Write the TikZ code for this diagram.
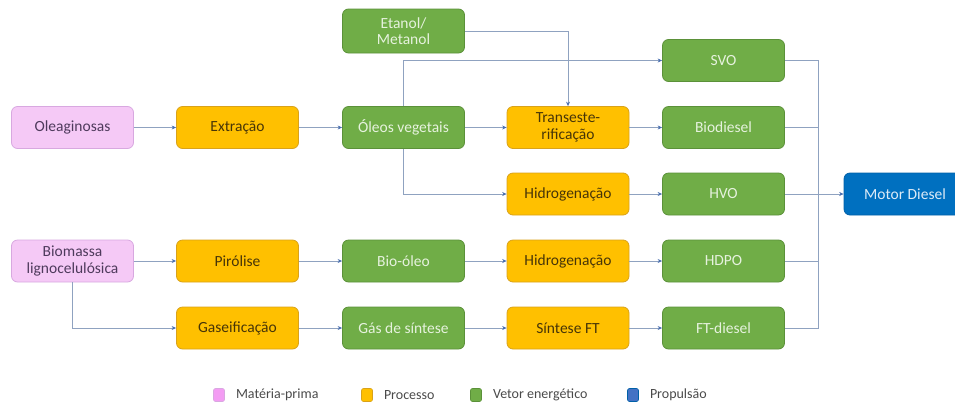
\documentclass[tikz,border=0pt]{standalone}
\usepackage{fontspec}
\setmainfont{Carlito}
\usetikzlibrary{arrows.meta,positioning}
\definecolor{rosa}{HTML}{F5C9F6}
\definecolor{rosaborda}{HTML}{D8A8E0}
\definecolor{rosatexto}{HTML}{4E3A5C}
\definecolor{rosaleg}{HTML}{F39CF3}
\definecolor{laranja}{HTML}{FFC000}
\definecolor{laranjaborda}{HTML}{D9A21A}
\definecolor{laranjatexto}{HTML}{473508}
\definecolor{verde}{HTML}{70AD47}
\definecolor{verdeborda}{HTML}{5B9139}
\definecolor{verdetexto}{HTML}{E6F2DE}
\definecolor{azul}{HTML}{0070C0}
\definecolor{azulborda}{HTML}{0060A8}
\definecolor{azultexto}{HTML}{DDEBF7}
\definecolor{azulleg}{HTML}{4472C4}
\definecolor{linhacor}{HTML}{8FA2C0}
\definecolor{setacor}{HTML}{4A6FB0}
\definecolor{legtexto}{HTML}{4A4A4A}
\begin{document}
\begin{tikzpicture}[x=1pt, y=-1pt,
    caixa/.style={rounded corners=6pt, minimum width=122pt, minimum height=42pt,
        align=center, inner sep=2pt, line width=0.8pt,
        font=\fontsize{15.5}{16.5}\selectfont},
    materia/.style={caixa, fill=rosa, draw=rosaborda, text=rosatexto},
    processo/.style={caixa, fill=laranja, draw=laranjaborda, text=laranjatexto},
    vetor/.style={caixa, fill=verde, draw=verdeborda, text=verdetexto},
    propulsao/.style={caixa, fill=azul, draw=azulborda, text=azultexto},
    linha/.style={draw=linhacor, line width=0.7pt},
    seta/.style={linha, -{Stealth[length=4.5pt, width=4pt, color=setacor]}},
    legcaixa/.style={rounded corners=2pt, minimum width=11pt, minimum height=13pt,
        inner sep=0pt, line width=0.6pt},
    legtexto/.style={inner sep=1pt, text=legtexto, font=\fontsize{14}{16}\selectfont}]

    \useasboundingbox (0,0) rectangle (955,405);

    % linha dos oleos
    \node[materia] (oleag) at (72.5,127.5) {Oleaginosas};
    \node[processo] (extr) at (237.5,127.5) {Extração};
    \node[vetor] (oleos) at (403.5,127.5) {Óleos vegetais};
    \node[vetor, minimum height=44pt] (etanol) at (403.5,31) {Etanol/\\Metanol};
    \node[processo] (trans) at (568,127.5) {Transeste-\\rificação};
    \node[processo] (hidroA) at (568,194) {Hidrogenação};
    \node[vetor] (svo) at (723.5,60.5) {SVO};
    \node[vetor] (biod) at (723.5,127.5) {Biodiesel};
    \node[vetor] (hvo) at (723.5,194) {HVO};
    \node[propulsao] (motor) at (905,194) {Motor Diesel};

    % linha da biomassa
    \node[materia] (biom) at (72.5,261) {Biomassa\\lignocelulósica};
    \node[processo] (piro) at (237.5,261) {Pirólise};
    \node[vetor] (bioleo) at (403.5,261) {Bio-óleo};
    \node[processo] (hidroB) at (568,261) {Hidrogenação};
    \node[vetor] (hdpo) at (723.5,261) {HDPO};
    \node[processo] (gaseif) at (237.5,328) {Gaseificação};
    \node[vetor] (gassint) at (403.5,328) {Gás de síntese};
    \node[processo] (sintft) at (568,328) {Síntese FT};
    \node[vetor] (ftdiesel) at (723.5,328) {FT-diesel};

    \draw[seta] (oleag) -- (extr);
    \draw[seta] (extr) -- (oleos);
    \draw[seta] (oleos) -- (trans);
    \draw[seta] (oleos.north) |- (svo);
    \draw[seta] (oleos.south) |- (hidroA);
    \draw[seta] (etanol) -| (trans);
    \draw[seta] (trans) -- (biod);
    \draw[seta] (hidroA) -- (hvo);
    \draw[seta] (biom) -- (piro);
    \draw[seta] (piro) -- (bioleo);
    \draw[seta] (bioleo) -- (hidroB);
    \draw[seta] (hidroB) -- (hdpo);
    \draw[seta] (biom.south) |- (gaseif);
    \draw[seta] (gaseif) -- (gassint);
    \draw[seta] (gassint) -- (sintft);
    \draw[seta] (sintft) -- (ftdiesel);

    % coletor para o motor
    \coordinate (topo) at (818,60.5);
    \coordinate (meio) at (818,194);
    \coordinate (base) at (818,328);
    \draw[linha] (svo) -- (topo) -- (base) -- (ftdiesel);
    \draw[linha] (biod) -- (biod -| meio);
    \draw[linha] (hvo) -- (meio);
    \draw[linha] (hdpo) -- (hdpo -| meio);
    \draw[seta] (meio) -- (motor);

    % legenda
    \node[legcaixa, fill=rosaleg, draw=rosaborda] (lmat) at (219,395) {};
    \node[legtexto, right=10pt of lmat] (tmat) {Matéria-prima};
    \node[legcaixa, fill=laranja, draw=laranjaborda] (lproc) at (367,395) {};
    \node[legtexto, right=10pt of lproc] (tproc) {Processo};
    \node[legcaixa, fill=verde, draw=verdeborda] (lvet) at (476,395) {};
    \node[legtexto, right=10pt of lvet] (tvet) {Vetor energético};
    \node[legcaixa, fill=azulleg, draw=azulborda] (lprop) at (633,395) {};
    \node[legtexto, right=10pt of lprop] (tprop) {Propulsão};
\end{tikzpicture}
\end{document}
